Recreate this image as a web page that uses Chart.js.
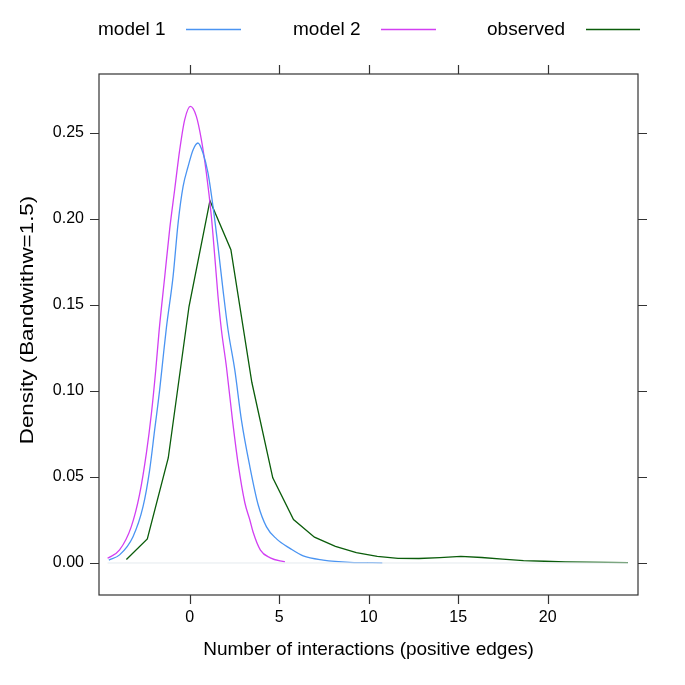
<!DOCTYPE html>
<html>
<head>
<meta charset="utf-8">
<script src="https://cdn.jsdelivr.net/npm/chart.js@4.4.0/dist/chart.umd.min.js"></script>
<style>
html, body { margin: 0; padding: 0; background: #fff; }
#wrap { width: 685px; height: 685px; }
</style>
</head>
<body>
<div id="wrap"><canvas id="chart" width="685" height="685"></canvas></div>
<script>
const seriesNames = ['model 1', 'model 2', 'observed'];
const seriesColors = ['#4a94f2', '#d23ff2', '#0a5c0a'];

const xTicks = [0, 5, 10, 15, 20];
const yTicks = [0, 0.05, 0.10, 0.15, 0.20, 0.25];
const xTitle = 'Number of interactions (positive edges)';
const yTitle = 'Density (Bandwithw=1.5)';

const model1X = [-4.52, -3.92, -3.17, -2.61, -2.24, -1.96, -1.68, -1.46, -1.30, -0.93, -0.65, -0.37, -0.09,
  0.19, 0.46, 0.74, 1.02, 1.30, 1.58, 1.86, 2.14, 2.52, 2.89, 3.36, 3.82, 4.29, 4.85, 5.60, 6.34, 7.46, 8.95, 10.76];
const model1Y = [0.0017, 0.0047, 0.0153, 0.0327, 0.054, 0.0773, 0.1006, 0.122, 0.137, 0.1665, 0.1975, 0.2188, 0.2304,
  0.2401, 0.244, 0.2382, 0.2266, 0.2072, 0.184, 0.1587, 0.1355, 0.112, 0.083, 0.056, 0.034, 0.021, 0.014, 0.0085, 0.0041, 0.0017, 0.0004, 0.0001];

const model2X = [-4.59, -3.92, -3.27, -2.80, -2.42, -2.14, -1.90, -1.71, -1.40, -1.12, -0.84, -0.56, -0.28,
  0.04, 0.37, 0.65, 0.93, 1.21, 1.40, 1.58, 1.77, 2.05, 2.39, 2.70, 3.08, 3.36, 3.54, 3.95, 4.50, 5.32];
const model2Y = [0.0027, 0.0076, 0.021, 0.040, 0.064, 0.087, 0.112, 0.135, 0.166, 0.194, 0.217, 0.240, 0.2576,
  0.2653, 0.2595, 0.246, 0.2266, 0.2013, 0.178, 0.155, 0.1355, 0.114, 0.083, 0.058, 0.035, 0.025, 0.018, 0.0075, 0.003, 0.0006];

const observedX = [-3.54, -2.37, -1.20, -0.04, 1.13, 2.30, 3.47, 4.64, 5.80, 6.97, 8.14, 9.31, 10.48,
  11.64, 12.81, 13.98, 15.15, 16.32, 17.48, 18.65, 19.82, 20.99, 22.16, 23.32, 24.49];
const observedY = [0.002, 0.014, 0.061, 0.149, 0.2105, 0.182, 0.105, 0.0495, 0.0252, 0.015, 0.0097, 0.006, 0.0038,
  0.0027, 0.0026, 0.0031, 0.0038, 0.0032, 0.0022, 0.0014, 0.001, 0.0007, 0.0005, 0.0003, 0.0002];

const baselineX = [-4.59, 24.49];
const baselineY = [0, 0];

function pts(xs, ys) {
  return xs.map((x, i) => ({ x: x, y: ys[i] }));
}

const FONT = '"Liberation Sans", Arial, Helvetica, sans-serif';

// frame, ticks, labels and key drawn lattice-style
const latticeFrame = {
  id: 'latticeFrame',
  afterDraw(chart) {
    const ctx = chart.ctx;
    const a = chart.chartArea;
    const xs = chart.scales.x;
    const ys = chart.scales.y;
    const tk = 9;
    ctx.save();
    ctx.strokeStyle = '#333';
    ctx.lineWidth = 1.2;
    ctx.strokeRect(a.left, a.top, a.right - a.left, a.bottom - a.top);

    ctx.beginPath();
    xTicks.forEach(v => {
      const px = Math.round(xs.getPixelForValue(v)) + 0.5;
      ctx.moveTo(px, a.bottom); ctx.lineTo(px, a.bottom + tk);
      ctx.moveTo(px, a.top); ctx.lineTo(px, a.top - tk);
    });
    yTicks.forEach(v => {
      const py = Math.round(ys.getPixelForValue(v)) + 0.5;
      ctx.moveTo(a.left, py); ctx.lineTo(a.left - tk, py);
      ctx.moveTo(a.right, py); ctx.lineTo(a.right + tk, py);
    });
    ctx.stroke();

    ctx.fillStyle = '#000';
    ctx.font = '16px ' + FONT;
    ctx.textAlign = 'center';
    ctx.textBaseline = 'middle';
    xTicks.forEach(v => {
      ctx.fillText(String(v), xs.getPixelForValue(v), a.bottom + 23);
    });
    ctx.textAlign = 'right';
    yTicks.forEach(v => {
      ctx.fillText(v.toFixed(2), a.left - 15, ys.getPixelForValue(v));
    });

    ctx.font = '19px ' + FONT;
    ctx.textAlign = 'center';
    ctx.fillText(xTitle, (a.left + a.right) / 2, 650);
    // y title is stretched along its length in the original
    ctx.save();
    ctx.translate(28, 320);
    ctx.rotate(-Math.PI / 2);
    ctx.scale(1.18, 1);
    ctx.fillText(yTitle, 0, 0);
    ctx.restore();

    // key
    const keyText = [98, 293, 487];
    const keyLine = [[186, 241], [381, 436], [586, 640]];
    ctx.textAlign = 'left';
    seriesNames.forEach((n, i) => {
      ctx.fillStyle = '#000';
      ctx.fillText(n, keyText[i], 30);
      ctx.strokeStyle = seriesColors[i];
      ctx.lineWidth = 1.3;
      ctx.beginPath();
      ctx.moveTo(keyLine[i][0], 29.5);
      ctx.lineTo(keyLine[i][1], 29.5);
      ctx.stroke();
    });
    ctx.restore();
  }
};

const chart = new Chart(document.getElementById('chart').getContext('2d'), {
  type: 'line',
  data: {
    datasets: [
      { label: 'baseline', data: pts(baselineX, baselineY), borderColor: '#e4eaee', borderWidth: 1, pointRadius: 0 },
      { label: seriesNames[0], data: pts(model1X, model1Y), borderColor: seriesColors[0], borderWidth: 1.3,
        pointRadius: 0, cubicInterpolationMode: 'monotone' },
      { label: seriesNames[1], data: pts(model2X, model2Y), borderColor: seriesColors[1], borderWidth: 1.3,
        pointRadius: 0, cubicInterpolationMode: 'monotone' },
      { label: seriesNames[2], data: pts(observedX, observedY), borderColor: seriesColors[2], borderWidth: 1.3,
        pointRadius: 0, tension: 0 }
    ]
  },
  options: {
    responsive: false,
    animation: false,
    layout: { padding: { left: 99, top: 74, right: 47, bottom: 90 } },
    plugins: { legend: { display: false }, tooltip: { enabled: false } },
    scales: {
      x: { type: 'linear', min: -5.07, max: 25.05, display: false },
      y: { type: 'linear', min: -0.0186, max: 0.2841, display: false }
    }
  },
  plugins: [latticeFrame]
});
</script>
</body>
</html>
